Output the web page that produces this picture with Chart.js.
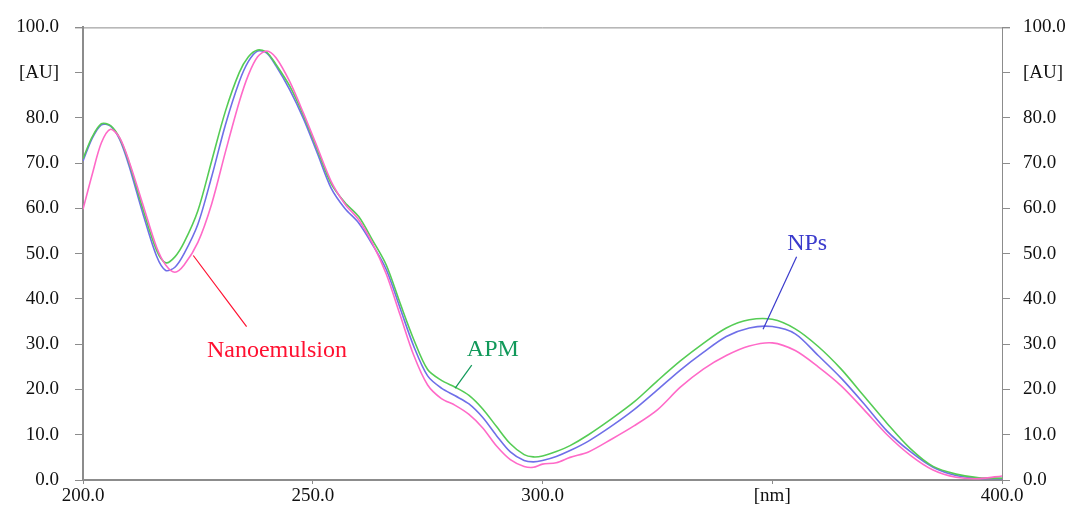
<!DOCTYPE html>
<html>
<head>
<meta charset="utf-8">
<script src="https://cdn.jsdelivr.net/npm/chart.js@4.4.1/dist/chart.umd.min.js"></script>
<style>
  html, body { margin: 0; padding: 0; background: #fff; }
  #wrap { width: 1072px; height: 513px; }
</style>
</head>
<body>
<div id="wrap"><canvas id="myChart" width="1072" height="513"></canvas></div>
<script>
// wavelength [nm]
const wavelengths = [200, 202, 204, 206, 208, 210, 213, 216, 218, 220, 222, 225, 228, 231, 234, 236, 238, 240, 242, 245,
  248, 251, 254, 257, 260, 263, 266, 269, 272, 275, 278, 281, 284, 287, 290, 293, 296, 298, 300, 303,
  306, 310, 315, 320, 325, 330, 335, 340, 345, 350, 355, 360, 365, 370, 375, 380, 385, 390, 395, 400];

const apm = [71.0, 75.8, 78.7, 78.3, 75.5, 70.2, 60.0, 50.8, 48.0, 49.3, 52.5, 59.5, 70.5, 81.5, 90.0, 93.5, 95.0, 94.5, 91.8, 87.0,
  80.5, 73.0, 65.5, 61.3, 58.2, 53.0, 47.5, 39.1, 31.0, 24.4, 22.0, 20.5, 18.7, 15.7, 11.8, 8.0, 5.6, 5.1, 5.3, 6.3,
  7.6, 10.0, 13.5, 17.3, 21.9, 26.3, 30.2, 33.6, 35.4, 35.5, 33.4, 29.5, 24.5, 18.5, 12.5, 7.0, 3.0, 1.3, 0.5, 0.4];

const nps = [70.5, 75.5, 78.5, 78.2, 75.2, 69.5, 59.0, 49.5, 46.3, 47.0, 50.0, 56.5, 67.0, 78.5, 88.0, 92.5, 94.8, 94.3, 91.5, 86.2,
  79.8, 72.2, 64.5, 60.0, 56.8, 52.0, 46.5, 38.0, 29.5, 23.0, 20.3, 18.6, 16.8, 13.8, 9.8, 6.2, 4.3, 4.0, 4.3, 5.2,
  6.5, 8.6, 11.9, 15.6, 19.9, 24.3, 28.2, 31.7, 33.6, 33.9, 32.3, 27.5, 22.5, 16.8, 10.8, 6.3, 2.8, 1.0, 0.4, 0.3];

const nanoemulsion = [59.8, 67.5, 74.5, 77.5, 75.6, 70.5, 61.0, 51.5, 47.5, 45.9, 47.5, 52.5, 61.0, 72.5, 83.5, 89.5, 93.5, 94.8, 93.3, 88.0,
  81.0, 73.5, 66.0, 61.0, 57.5, 52.3, 45.5, 36.5, 27.5, 21.0, 18.0, 16.5, 14.5, 11.5, 7.5, 4.5, 3.0, 2.8, 3.5, 3.8,
  5.0, 6.2, 9.0, 12.0, 15.5, 20.5, 24.5, 27.5, 29.6, 30.3, 28.6, 25.0, 20.8, 15.5, 10.0, 5.5, 2.2, 0.6, 0.3, 0.9];

const yTickLabels = ['0.0', '10.0', '20.0', '30.0', '40.0', '50.0', '60.0', '70.0', '80.0', '[AU]', '100.0'];
const xTickLabels = ['200.0', '250.0', '300.0', '[nm]', '400.0'];

// curve labels with leader lines (data units)
const labelText = ['Nanoemulsion', 'APM', 'NPs'];
const labelColor = ['#ff1030', '#11995a', '#3a3acc'];
const labelAt = [[242.2, 28.6], [289.2, 28.8], [357.6, 52.3]];
const leaderFrom = [[224.0, 49.6], [284.6, 25.4], [355.3, 49.3]];
const leaderTo = [[235.6, 33.9], [281.0, 20.3], [348.0, 33.3]];

const serif = '"Liberation Serif", "Times New Roman", serif';

function toXY(arr) {
  return wavelengths.map((w, i) => ({ x: w, y: arr[i] }));
}

const curveLabels = {
  id: 'curveLabels',
  afterDatasetsDraw(chart) {
    const { ctx, chartArea, scales } = chart;
    const x = scales.x, y = scales.y;
    ctx.save();
    // frame line on top
    ctx.strokeStyle = '#8c8c8c';
    ctx.lineWidth = 1;
    ctx.beginPath();
    ctx.moveTo(chartArea.left - 8, chartArea.top + 0.5);
    ctx.lineTo(chartArea.right + 8, chartArea.top + 0.5);
    ctx.stroke();

    for (let i = 0; i < labelText.length; i++) {
      ctx.strokeStyle = labelColor[i];
      ctx.lineWidth = 1.2;
      ctx.beginPath();
      ctx.moveTo(x.getPixelForValue(leaderFrom[i][0]), y.getPixelForValue(leaderFrom[i][1]));
      ctx.lineTo(x.getPixelForValue(leaderTo[i][0]), y.getPixelForValue(leaderTo[i][1]));
      ctx.stroke();
      ctx.fillStyle = labelColor[i];
      ctx.font = '24px ' + serif;
      ctx.textAlign = 'center';
      ctx.textBaseline = 'middle';
      ctx.fillText(labelText[i], x.getPixelForValue(labelAt[i][0]), y.getPixelForValue(labelAt[i][1]));
    }
    ctx.restore();
  }
};

const data = {
  datasets: [{
    label: 'Nanoemulsion',
    data: toXY(nanoemulsion),
    borderColor: '#ff6ac8',
    borderWidth: 1.6
  }, {
    label: 'APM',
    data: toXY(apm),
    borderColor: '#55cc55',
    borderWidth: 1.6
  }, {
    label: 'NPs',
    data: toXY(nps),
    borderColor: '#6f6fe8',
    borderWidth: 1.6
  }]
};

const tickFont = { family: serif, size: 19 };

const config = {
  type: 'line',
  data: data,
  options: {
    responsive: false,
    animation: false,
    layout: { padding: { top: 20, left: 0, right: 0, bottom: 0 } },
    elements: {
      point: { radius: 0 },
      line: { tension: 0.3, fill: false }
    },
    plugins: {
      legend: { display: false },
      tooltip: { enabled: false }
    },
    scales: {
      x: {
        type: 'linear',
        min: 200,
        max: 400,
        afterBuildTicks: (s) => { s.ticks = [200, 250, 300, 350, 400].map(v => ({ value: v })); },
        afterFit: (s) => { s.height = 33; },
        border: { color: '#8c8c8c', width: 2 },
        grid: { drawOnChartArea: false, tickLength: 4, color: '#8c8c8c' },
        ticks: {
          color: '#111',
          font: tickFont,
          padding: 1,
          maxRotation: 0,
          callback: (v, i) => xTickLabels[i]
        }
      },
      y: {
        min: 0,
        max: 100,
        afterBuildTicks: (s) => { s.ticks = yTickLabels.map((t, i) => ({ value: i * 10 })); },
        afterFit: (s) => { s.width = 83; },
        border: { color: '#8c8c8c', width: 2 },
        grid: { drawOnChartArea: false, tickLength: 8, color: '#8c8c8c' },
        ticks: {
          color: '#111',
          font: tickFont,
          padding: 16,
          callback: (v, i) => yTickLabels[i]
        }
      },
      y2: {
        position: 'right',
        min: 0,
        max: 100,
        afterBuildTicks: (s) => { s.ticks = yTickLabels.map((t, i) => ({ value: i * 10 })); },
        afterFit: (s) => { s.width = 70; },
        border: { color: '#8c8c8c', width: 1 },
        grid: { drawOnChartArea: false, tickLength: 8, color: '#8c8c8c' },
        ticks: {
          color: '#111',
          font: tickFont,
          padding: 13,
          callback: (v, i) => yTickLabels[i]
        }
      }
    }
  },
  plugins: [curveLabels]
};

const myChart = new Chart(
  document.getElementById('myChart'),
  config
);
</script>
</body>
</html>
